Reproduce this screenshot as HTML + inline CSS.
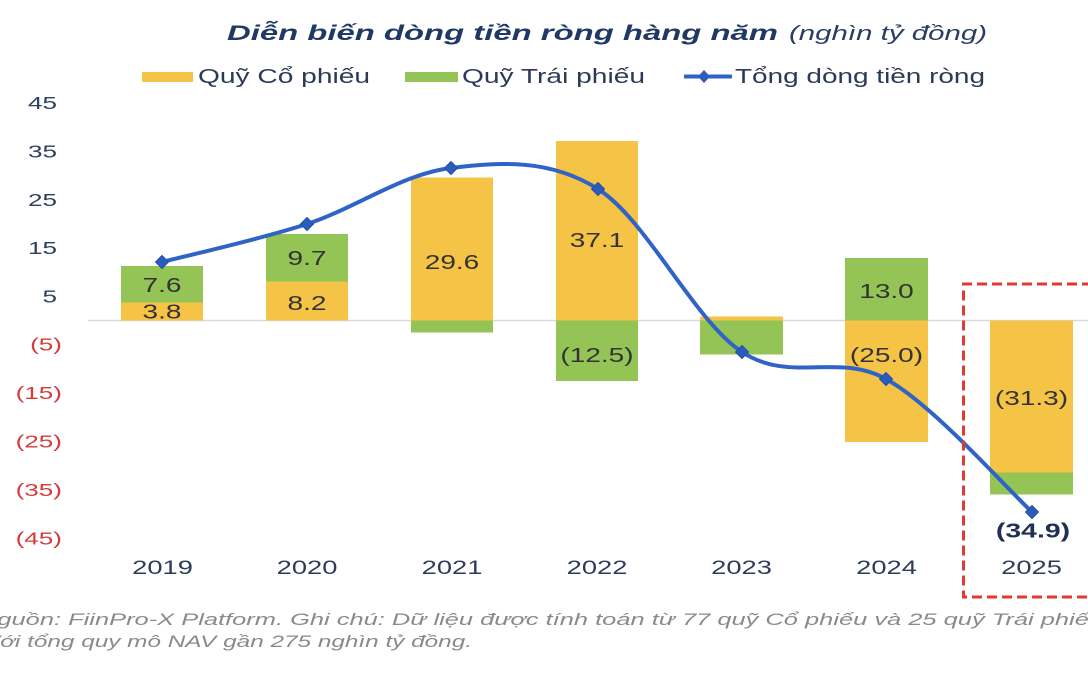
<!DOCTYPE html>
<html>
<head>
<meta charset="utf-8">
<style>
html,body{margin:0;padding:0;background:#ffffff;}
svg{display:block;}
text{font-family:"Liberation Sans","DejaVu Sans",sans-serif;}
</style>
</head>
<body>
<svg width="1088" height="680" viewBox="0 0 1088 680" xmlns="http://www.w3.org/2000/svg">
<rect x="0" y="0" width="1088" height="680" fill="#ffffff"/>

<!-- Title -->
<text x="227" y="40" font-size="21" font-weight="bold" font-style="italic" fill="#1f3864" textLength="551" lengthAdjust="spacingAndGlyphs">Diễn biến dòng tiền ròng hàng năm</text>
<text x="789" y="40" font-size="20" font-style="italic" fill="#2a3d62" textLength="198" lengthAdjust="spacingAndGlyphs">(nghìn tỷ đồng)</text>

<!-- Legend -->
<rect x="142" y="72" width="51" height="10" fill="#f5c345"/>
<text x="198" y="83" font-size="20" fill="#2c3a57" textLength="172" lengthAdjust="spacingAndGlyphs">Quỹ Cổ phiếu</text>
<rect x="405" y="72" width="53" height="10" fill="#93c455"/>
<text x="462" y="83" font-size="20" fill="#2c3a57" textLength="183" lengthAdjust="spacingAndGlyphs">Quỹ Trái phiếu</text>
<line x1="684" y1="76.5" x2="732" y2="76.5" stroke="#2f63c6" stroke-width="4"/>
<polygon points="704,70 710,76.5 704,83 698,76.5" fill="#2b5cbc"/>
<text x="735" y="83" font-size="20" fill="#2c3a57" textLength="250" lengthAdjust="spacingAndGlyphs">Tổng dòng tiền ròng</text>

<!-- Y axis labels -->
<g font-size="18" fill="#2d3e5e">
<text transform="translate(57,109) scale(1.45,1)" text-anchor="end">45</text>
<text transform="translate(57,157.5) scale(1.45,1)" text-anchor="end">35</text>
<text transform="translate(57,206) scale(1.45,1)" text-anchor="end">25</text>
<text transform="translate(57,254) scale(1.45,1)" text-anchor="end">15</text>
<text transform="translate(57,302.5) scale(1.45,1)" text-anchor="end">5</text>
</g>
<g font-size="18" fill="#d63b3b">
<text transform="translate(62,350.5) scale(1.45,1)" text-anchor="end">(5)</text>
<text transform="translate(62,399) scale(1.45,1)" text-anchor="end">(15)</text>
<text transform="translate(62,447.5) scale(1.45,1)" text-anchor="end">(25)</text>
<text transform="translate(62,496) scale(1.45,1)" text-anchor="end">(35)</text>
<text transform="translate(62,544.5) scale(1.45,1)" text-anchor="end">(45)</text>
</g>

<!-- Zero axis -->
<line x1="88" y1="320.5" x2="1088" y2="320.5" stroke="#d9d9d9" stroke-width="1.5"/>

<!-- Bars -->
<rect x="121" y="302.5" width="82" height="18" fill="#f5c345"/>
<rect x="121" y="266" width="82" height="36.5" fill="#93c455"/>
<rect x="266" y="281.5" width="82" height="39" fill="#f5c345"/>
<rect x="266" y="234" width="82" height="47.5" fill="#93c455"/>
<rect x="411" y="177.5" width="82" height="143" fill="#f5c345"/>
<rect x="411" y="320.5" width="82" height="12" fill="#93c455"/>
<rect x="556" y="141" width="82" height="179.5" fill="#f5c345"/>
<rect x="556" y="320.5" width="82" height="60.5" fill="#93c455"/>
<rect x="700" y="316.5" width="83" height="4" fill="#f5c345"/>
<rect x="700" y="320.5" width="83" height="34" fill="#93c455"/>
<rect x="845" y="258" width="83" height="62.5" fill="#93c455"/>
<rect x="845" y="320.5" width="83" height="121.5" fill="#f5c345"/>
<rect x="990" y="320.5" width="83" height="152" fill="#f5c345"/>
<rect x="990" y="472.5" width="83" height="22" fill="#93c455"/>

<!-- Bar labels -->
<g font-size="20" fill="#333333" text-anchor="middle">
<text transform="translate(162,292) scale(1.4,1)">7.6</text>
<text transform="translate(162,318.5) scale(1.4,1)">3.8</text>
<text transform="translate(307,265) scale(1.4,1)">9.7</text>
<text transform="translate(307,310) scale(1.4,1)">8.2</text>
<text transform="translate(452,269) scale(1.4,1)">29.6</text>
<text transform="translate(597,247) scale(1.4,1)">37.1</text>
<text transform="translate(597,362) scale(1.4,1)">(12.5)</text>
<text transform="translate(886.5,298) scale(1.4,1)">13.0</text>
<text transform="translate(886.5,362) scale(1.4,1)">(25.0)</text>
<text transform="translate(1031.5,405) scale(1.4,1)">(31.3)</text>
</g>

<!-- Total line -->
<path d="M162,262 C186.2,255.7 258.8,239.7 307,224 C355.2,208.3 402.5,173.8 451,168 C499.5,162.2 549.5,158.3 598,189 C646.5,219.7 694,320.3 742,352 C790,383.7 837.7,352.3 886,379 C934.3,405.7 1007.7,489.8 1032,512" fill="none" stroke="#2f63c6" stroke-width="4" stroke-linecap="round" stroke-linejoin="round"/>
<g fill="#2b5cbc" stroke="#224fa8" stroke-width="1">
<polygon points="162,255.5 168.5,262 162,268.5 155.5,262"/>
<polygon points="307,217.5 313.5,224 307,230.5 300.5,224"/>
<polygon points="451,161.5 457.5,168 451,174.5 444.5,168"/>
<polygon points="598,182.5 604.5,189 598,195.5 591.5,189"/>
<polygon points="742,345.5 748.5,352 742,358.5 735.5,352"/>
<polygon points="886,372.5 892.5,379 886,385.5 879.5,379"/>
<polygon points="1032,505.5 1038.5,512 1032,518.5 1025.5,512"/>
</g>

<!-- 2025 total label -->
<text transform="translate(1033,537.5) scale(1.42,1)" text-anchor="middle" font-size="20" font-weight="bold" fill="#1f3050">(34.9)</text>

<!-- X axis labels -->
<g font-size="19.5" fill="#2d3b5a" text-anchor="middle">
<text transform="translate(162.5,574) scale(1.4,1)">2019</text>
<text transform="translate(307,574) scale(1.4,1)">2020</text>
<text transform="translate(452,574) scale(1.4,1)">2021</text>
<text transform="translate(597,574) scale(1.4,1)">2022</text>
<text transform="translate(741.5,574) scale(1.4,1)">2023</text>
<text transform="translate(886.5,574) scale(1.4,1)">2024</text>
<text transform="translate(1031.5,574) scale(1.4,1)">2025</text>
</g>

<!-- Red dashed highlight box -->
<path d="M1092,284 L963.5,284 L963.5,597 L1092,597" fill="none" stroke="#e03a33" stroke-width="3" stroke-dasharray="10,5"/>

<!-- Footer -->
<g font-size="17" font-style="italic" fill="#8a8a8a">
<text x="-21" y="625" textLength="1124" lengthAdjust="spacingAndGlyphs">Nguồn: FiinPro-X Platform. Ghi chú: Dữ liệu được tính toán từ 77 quỹ Cổ phiếu và 25 quỹ Trái phiếu</text>
<text x="-16" y="647" textLength="488" lengthAdjust="spacingAndGlyphs">Với tổng quy mô NAV gần 275 nghìn tỷ đồng.</text>
</g>
</svg>
</body>
</html>
